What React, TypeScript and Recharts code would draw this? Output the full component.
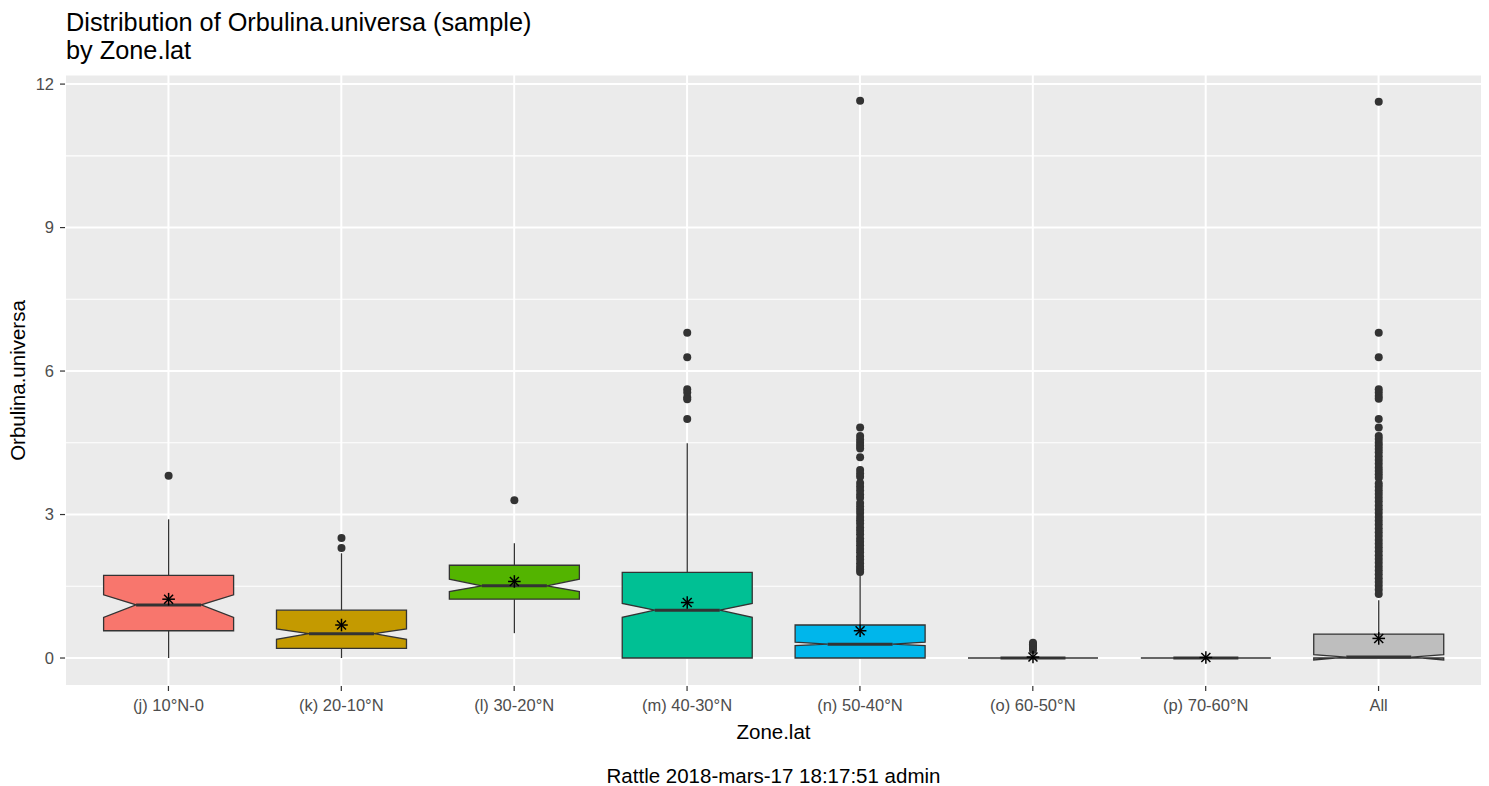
import React from "react";
import { Bar, CartesianGrid, ComposedChart, XAxis, YAxis } from "recharts";

const FONT = "'Liberation Sans', Arial, sans-serif";

const zones = [
  "(j) 10°N-0",
  "(k) 20-10°N",
  "(l) 30-20°N",
  "(m) 40-30°N",
  "(n) 50-40°N",
  "(o) 60-50°N",
  "(p) 70-60°N",
  "All",
];
const fills = ["#F8766D", "#C49A00", "#53B400", "#00C094", "#00B6EB", "#A58AFF", "#FB61D7", "#BEBEBE"];

const whiskerLo = [0, 0, 0.52, 0, 0, 0, 0, 0];
const q1 = [0.57, 0.2, 1.23, 0, 0, 0, 0, 0];
const median = [1.11, 0.51, 1.51, 1.0, 0.29, 0, 0, 0.02];
const q3 = [1.73, 1.0, 1.94, 1.79, 0.69, 0, 0, 0.5];
const whiskerHi = [2.9, 2.19, 2.4, 4.49, 1.73, 0, 0, 1.21];
const notchLo = [0.85, 0.39, 1.39, 0.85, 0.26, 0, 0, -0.04];
const notchHi = [1.32, 0.61, 1.65, 1.14, 0.33, 0, 0, 0.07];
const means = [1.23, 0.69, 1.6, 1.16, 0.57, 0.02, 0.01, 0.41];

const outliersJ = [3.81];
const outliersK = [2.51, 2.3];
const outliersL = [3.3];
const outliersM = [6.8, 6.29, 5.62, 5.55, 5.45, 5.41, 5.0];
const outliersN = [
  11.65, 4.82, 4.64, 4.57, 4.5, 4.44, 4.38, 4.2, 3.93, 3.86, 3.79, 3.66, 3.58, 3.5, 3.42, 3.35,
  3.24, 3.17, 3.1, 3.03, 2.95, 2.88, 2.81, 2.73, 2.66, 2.59, 2.5, 2.43, 2.36, 2.28, 2.21, 2.13,
  2.06, 1.98, 1.91, 1.85, 1.8,
];
const outliersO = [0.17, 0.2, 0.23, 0.26, 0.29, 0.32];
const outliersP: number[] = [];
const outliersAll = [
  11.63, 6.8, 6.29, 5.62, 5.55, 5.48, 5.42, 5.0, 4.82, 4.64, 4.58, 4.5, 4.44, 4.37, 4.3, 4.22,
  4.14, 4.06, 3.98, 3.91, 3.84, 3.77, 3.65, 3.58, 3.5, 3.43, 3.35, 3.27, 3.19, 3.11, 3.03, 2.95,
  2.87, 2.79, 2.71, 2.63, 2.55, 2.47, 2.39, 2.31, 2.23, 2.15, 2.07, 1.99, 1.91, 1.83, 1.75, 1.67,
  1.59, 1.51, 1.43, 1.34,
];
const outliers = [outliersJ, outliersK, outliersL, outliersM, outliersN, outliersO, outliersP, outliersAll];

const Y_MIN = -0.585;
const Y_MAX = 12.19;
const yTicks = [0, 1.5, 3, 4.5, 6, 7.5, 9, 10.5, 12];
const majorTicks = [0, 3, 6, 9, 12];

const data = zones.map((zone, i) => ({
  zone,
  fill: fills[i],
  lo: whiskerLo[i],
  q1: q1[i],
  med: median[i],
  q3: q3[i],
  hi: whiskerHi[i],
  nLo: notchLo[i],
  nHi: notchHi[i],
  mean: means[i],
  outliers: outliers[i],
}));

// the bar spans the whole y domain, so its rect gives the value -> pixel mapping
function BoxShape(props: any) {
  const { x, y, width, height, payload } = props;
  const py = (v: number) => y + (height * (Y_MAX - v)) / (Y_MAX - Y_MIN);
  const cx = x + width / 2;
  const L = x;
  const R = x + width;
  const iL = x + width / 4;
  const iR = x + (width * 3) / 4;
  const pts = [
    [L, py(payload.q3)],
    [L, py(payload.nHi)],
    [iL, py(payload.med)],
    [L, py(payload.nLo)],
    [L, py(payload.q1)],
    [R, py(payload.q1)],
    [R, py(payload.nLo)],
    [iR, py(payload.med)],
    [R, py(payload.nHi)],
    [R, py(payload.q3)],
  ]
    .map((p) => p.join(","))
    .join(" ");
  const my = py(payload.mean);
  const s = 6.3;
  const d = 4.5;
  return (
    <g>
      {payload.outliers.map((v: number, k: number) => (
        <circle key={k} cx={cx} cy={py(v)} r={4} fill="#333333" />
      ))}
      <line x1={cx} x2={cx} y1={py(payload.q3)} y2={py(payload.hi)} stroke="#333333" strokeWidth={1.3} />
      <line x1={cx} x2={cx} y1={py(payload.q1)} y2={py(payload.lo)} stroke="#333333" strokeWidth={1.3} />
      <polygon points={pts} fill={payload.fill} stroke="#333333" strokeWidth={1.3} />
      <line x1={iL} x2={iR} y1={py(payload.med)} y2={py(payload.med)} stroke="#333333" strokeWidth={3} />
      <g stroke="#000000" strokeWidth={1.5}>
        <line x1={cx - s} x2={cx + s} y1={my} y2={my} />
        <line x1={cx} x2={cx} y1={my - s} y2={my + s} />
        <line x1={cx - d} x2={cx + d} y1={my - d} y2={my + d} />
        <line x1={cx - d} x2={cx + d} y1={my + d} y2={my - d} />
      </g>
    </g>
  );
}

function YTick(props: any) {
  const { x, y, payload } = props;
  if (!majorTicks.includes(payload.value)) return <g />;
  return (
    <g>
      <line x1={x + 6} x2={x + 11} y1={y} y2={y} stroke="#333333" strokeWidth={1.2} />
      <text x={x} y={y} dy="0.355em" textAnchor="end" fill="#4D4D4D" fontSize={16.5} fontFamily={FONT}>
        {payload.value}
      </text>
    </g>
  );
}

function HLine(props: any) {
  const major = props.index % 2 === 0;
  return (
    <line
      key={props.key}
      x1={props.x1}
      x2={props.x2}
      y1={props.y1}
      y2={props.y2}
      stroke="#FFFFFF"
      strokeWidth={major ? 2 : 1.1}
    />
  );
}

export default function App() {
  return (
    <div style={{ position: "absolute", left: 0, top: 0, width: 1489, height: 786, background: "#fff" }}>
      <ComposedChart
        width={1489}
        height={786}
        data={data}
        margin={{ top: 75, right: 7, bottom: 70, left: 0 }}
        barCategoryGap="12.5%"
      >
        <CartesianGrid
          fill="#EBEBEB"
          fillOpacity={1}
          stroke="#FFFFFF"
          strokeWidth={2}
          horizontal={HLine}
          vertical={{ stroke: "#FFFFFF", strokeWidth: 2 }}
        />
        <XAxis
          dataKey="zone"
          height={30}
          interval={0}
          axisLine={false}
          tickSize={5}
          tickMargin={8}
          tickLine={{ stroke: "#333333", strokeWidth: 1.2 }}
          tick={{ fill: "#4D4D4D", fontSize: 16.5, fontFamily: FONT }}
          padding={{ left: 17, right: 17 }}
        />
        <YAxis
          type="number"
          width={65}
          domain={[Y_MIN, Y_MAX]}
          allowDataOverflow
          ticks={yTicks}
          interval={0}
          axisLine={false}
          tickLine={false}
          tickSize={5}
          tickMargin={6}
          tick={<YTick />}
        />
        <Bar dataKey={() => [Y_MIN, Y_MAX]} shape={<BoxShape />} isAnimationActive={false} />
      </ComposedChart>
      <svg
        width={1489}
        height={786}
        style={{ position: "absolute", left: 0, top: 0, pointerEvents: "none" }}
        fontFamily={FONT}
      >
        <text x={66} y={31} fontSize={25.3} fill="#000">
          Distribution of Orbulina.universa (sample)
        </text>
        <text x={66} y={59} fontSize={25.3} fill="#000">
          by Zone.lat
        </text>
        <text x={773.5} y={739} fontSize={20.5} textAnchor="middle" fill="#000">
          Zone.lat
        </text>
        <text x={773.5} y={783} fontSize={20.5} textAnchor="middle" fill="#000">
          Rattle 2018-mars-17 18:17:51 admin
        </text>
        <text x={25} y={380.5} fontSize={20.5} textAnchor="middle" fill="#000" transform="rotate(-90 25 380.5)">
          Orbulina.universa
        </text>
      </svg>
    </div>
  );
}
